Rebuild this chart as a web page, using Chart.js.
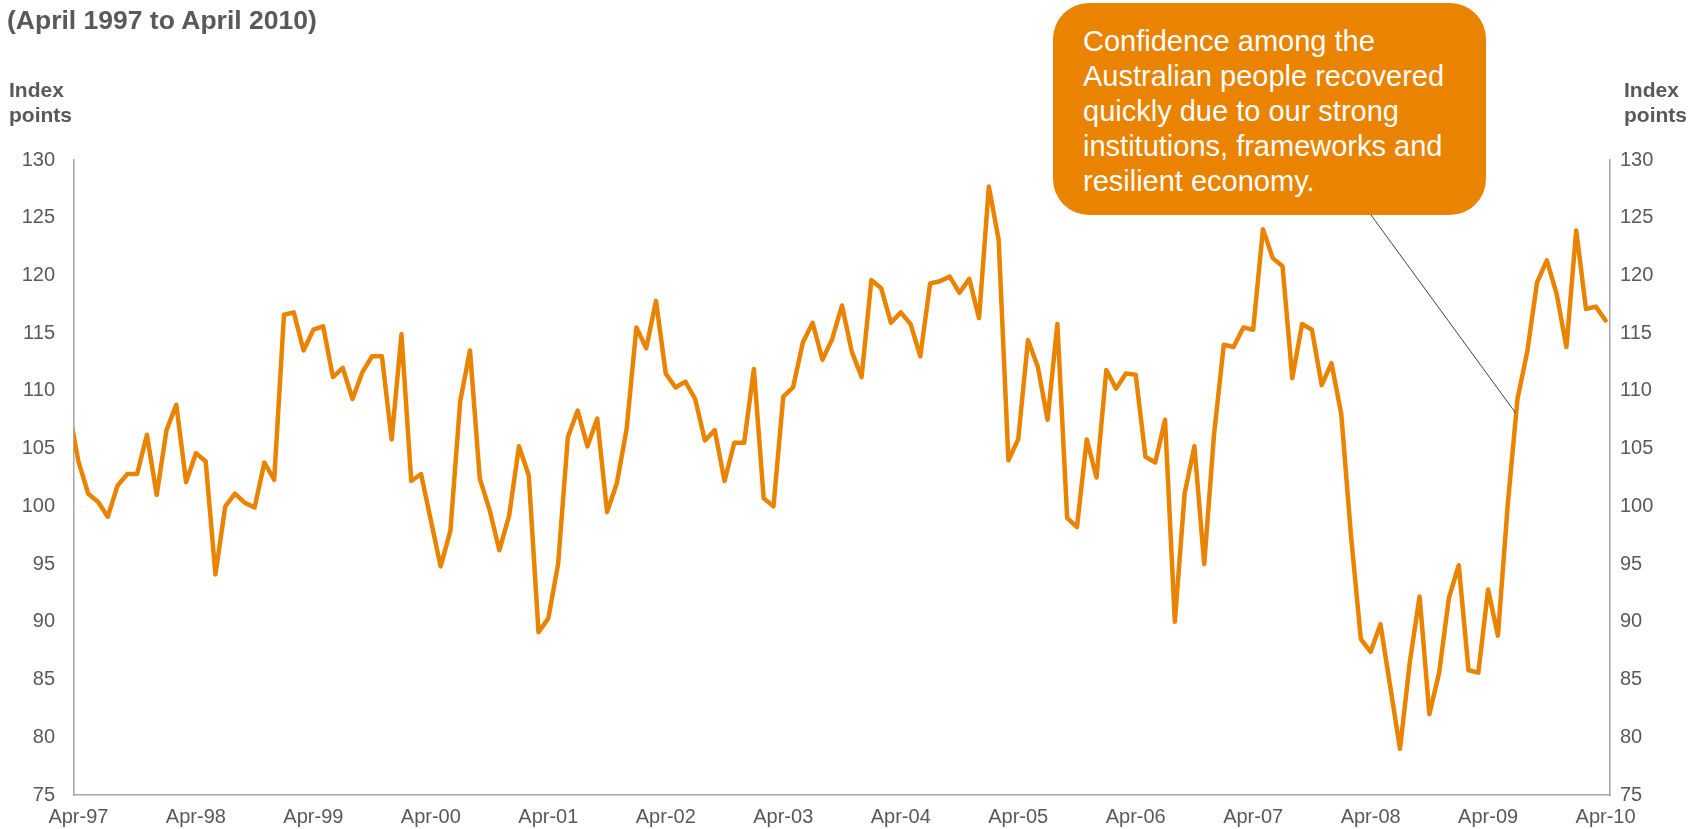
<!DOCTYPE html>
<html>
<head>
<meta charset="utf-8">
<script src="https://cdn.jsdelivr.net/npm/chart.js@4/dist/chart.umd.min.js"></script>
<style>
  html, body { margin: 0; padding: 0; background: #fff; }
  #wrap { position: relative; width: 1701px; height: 829px; overflow: hidden; font-family: Arial, "Liberation Sans", sans-serif; }
  #chart { position: absolute; left: 0; top: 0; }
  .title { position: absolute; left: 7px; top: 5px; font-size: 26.5px; line-height: 30px; font-weight: bold; color: #595959; white-space: nowrap; }
  .unit { position: absolute; top: 77px; font-size: 21px; line-height: 25px; font-weight: bold; color: #595959; }
  .note { position: absolute; left: 1053px; top: 3px; width: 403px; height: 191px; padding: 21px 0 0 30px;
          background: #e98300; border-radius: 36px; color: #fff; font-size: 29px; line-height: 35px; }
</style>
</head>
<body>
<div id="wrap">
  <canvas id="chart" width="1701" height="829"></canvas>
  <div class="title">(April 1997 to April 2010)</div>
  <div class="unit" style="left:9px">Index<br>points</div>
  <div class="unit" style="left:1624px">Index<br>points</div>
  <div class="note">Confidence among the<br>Australian people recovered<br>quickly due to our strong<br>institutions, frameworks and<br>resilient economy.</div>
</div>
<script>
// Axis labels (one every April)
const yearLabels = ["Apr-97", "Apr-98", "Apr-99", "Apr-00", "Apr-01", "Apr-02", "Apr-03",
  "Apr-04", "Apr-05", "Apr-06", "Apr-07", "Apr-08", "Apr-09", "Apr-10"];

// Monthly index, Mar-97 (clipped at the axis) then Apr-97 .. Apr-10
const firstMonth = -1; // Mar-97 sits one month before the first tick
const sentiment = [
  108.5,
  103.9, 101.1, 100.4, 99.1, 101.8, 102.8, 102.8, 106.2, 101.0, 106.6, 108.8, 102.1,
  104.6, 103.9, 94.1, 100.0, 101.1, 100.3, 99.9, 103.8, 102.3, 116.6, 116.8, 113.5,
  115.3, 115.6, 111.2, 112.0, 109.3, 111.6, 113.0, 113.0, 105.8, 114.9, 102.2, 102.8,
  98.8, 94.8, 97.9, 109.1, 113.5, 102.4, 99.7, 96.2, 99.2, 105.2, 102.7, 89.1,
  90.3, 95.0, 106.0, 108.3, 105.2, 107.6, 99.5, 102.0, 106.7, 115.5, 113.7, 117.8,
  111.5, 110.3, 110.8, 109.3, 105.7, 106.6, 102.2, 105.5, 105.5, 111.9, 100.7, 100.0,
  109.5, 110.3, 114.2, 115.9, 112.7, 114.5, 117.4, 113.4, 111.2, 119.6, 118.9, 115.9,
  116.8, 115.8, 113.0, 119.3, 119.5, 119.9, 118.5, 119.7, 116.3, 127.7, 123.1, 104.0,
  105.8, 114.4, 112.1, 107.5, 115.8, 99.0, 98.2, 105.8, 102.5, 111.8, 110.2, 111.5,
  111.4, 104.3, 103.8, 107.5, 90.0, 101.1, 105.2, 95.0, 106.2, 114.0, 113.8, 115.5,
  115.3, 124.0, 121.5, 120.8, 111.1, 115.8, 115.3, 110.5, 112.4, 108.0, 97.4, 88.5,
  87.4, 89.8, 84.4, 79.0, 86.5, 92.2, 82.0, 85.6, 92.1, 94.9, 85.8, 85.6,
  92.8, 88.8, 100.1, 109.3, 113.4, 119.4, 121.3, 118.4, 113.8, 123.9, 117.1, 117.3,
  116.1
];

// Where the callout pointer touches the line (month index, index value)
const calloutTarget = { x: 146.8, y: 108.1 };

const orange = "#e98300";
const grey = "#595959";
const axisGrey = "#a6a6a6";
const tickFont = { family: "Arial, 'Liberation Sans', sans-serif", size: 20 };

const points = sentiment.map((v, i) => ({ x: i + firstMonth, y: v }));

// Pointer from the callout box down to the line
const calloutLine = {
  id: "calloutLine",
  afterDatasetsDraw(chart) {
    const { ctx, scales } = chart;
    ctx.save();
    ctx.strokeStyle = "#404040";
    ctx.lineWidth = 1;
    ctx.beginPath();
    ctx.moveTo(1371, 215);
    ctx.lineTo(scales.x.getPixelForValue(calloutTarget.x), scales.y.getPixelForValue(calloutTarget.y));
    ctx.stroke();
    ctx.restore();
  },
};

const yAxis = (position, padding, width) => ({
  type: "linear",
  position: position,
  min: 75,
  max: 130,
  grid: { display: false, drawTicks: false },
  border: { display: true, color: axisGrey, width: 1.5 },
  ticks: { stepSize: 5, color: grey, font: tickFont, padding: padding },
  afterFit: (scale) => { scale.width = width; },
});

new Chart(document.getElementById("chart").getContext("2d"), {
  type: "line",
  data: {
    datasets: [{
      data: points,
      borderColor: orange,
      borderWidth: 4.5,
      borderJoinStyle: "round",
      borderCapStyle: "round",
      pointRadius: 0,
      tension: 0,
      clip: 0,
    }],
  },
  options: {
    responsive: false,
    devicePixelRatio: 1,
    animation: false,
    layout: { padding: { top: 160, left: 0, right: 0, bottom: 0 } },
    plugins: { legend: { display: false }, tooltip: { enabled: false } },
    scales: {
      x: {
        type: "linear",
        min: -0.45,
        max: 156.45,
        grid: { display: false, drawTicks: false },
        border: { display: true, color: axisGrey, width: 1.5 },
        ticks: {
          color: grey,
          font: tickFont,
          padding: 10,
          autoSkip: false,
          maxRotation: 0,
          callback: (value) => yearLabels[Math.round(value / 12)],
        },
        afterBuildTicks: (scale) => {
          scale.ticks = yearLabels.map((_, i) => ({ value: i * 12 }));
        },
        afterFit: (scale) => { scale.height = 34; },
      },
      y: yAxis("left", 19, 74),
      y2: yAxis("right", 10, 91),
    },
  },
  plugins: [calloutLine],
});
</script>
</body>
</html>
